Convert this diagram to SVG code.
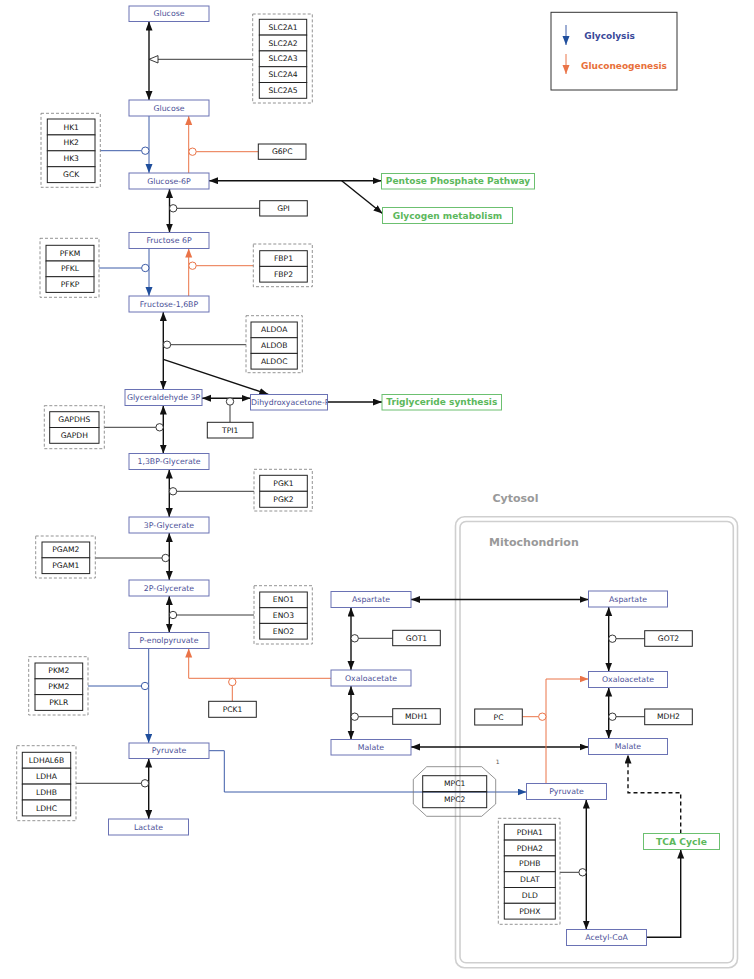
<svg xmlns="http://www.w3.org/2000/svg" width="754" height="979" viewBox="0 0 754 979">
<style>
.n rect{fill:#fff;stroke:#6a72b4;stroke-width:1}
.n text{font-family:"DejaVu Sans",Verdana,sans-serif;font-size:7.8px;fill:#4b5097;text-anchor:middle;dominant-baseline:central}
.g rect{fill:#fff;stroke:#222;stroke-width:1}
.g text{font-family:"DejaVu Sans",Verdana,sans-serif;font-size:7.6px;fill:#111;text-anchor:middle;dominant-baseline:central}
.g .grp{fill:none;stroke:#777;stroke-width:0.8;stroke-dasharray:3 2}
.p rect{fill:#fff;stroke:#6cc070;stroke-width:1}
.p text{font-family:"DejaVu Sans",Verdana,sans-serif;font-size:9px;font-weight:bold;fill:#5cb85c;text-anchor:middle;dominant-baseline:central}
.k{stroke:#111;stroke-width:1.4;fill:none}
.e{stroke:#222;stroke-width:0.9;fill:none}
.b{stroke:#3d5ca8;stroke-width:1;fill:none}
.o{stroke:#ea7448;stroke-width:1;fill:none}
.c{fill:#fff}
.lbl{font-family:"DejaVu Sans",Verdana,sans-serif;font-weight:bold;font-size:11px;fill:#999}
</style>
<defs>
<marker id="ak" markerUnits="userSpaceOnUse" markerWidth="10" markerHeight="8" refX="9" refY="3.5" orient="auto-start-reverse"><path d="M0,0 L9,3.5 L0,7 z" fill="#111"/></marker>
<marker id="ab" markerUnits="userSpaceOnUse" markerWidth="10" markerHeight="8" refX="9" refY="3.5" orient="auto-start-reverse"><path d="M0,0 L9,3.5 L0,7 z" fill="#1f4e9c"/></marker>
<marker id="ao" markerUnits="userSpaceOnUse" markerWidth="10" markerHeight="8" refX="9" refY="3.5" orient="auto-start-reverse"><path d="M0,0 L9,3.5 L0,7 z" fill="#ea7448"/></marker>
<clipPath id="clipD"><rect x="250.5" y="394.5" width="77" height="15.5"/></clipPath>
</defs>

<!-- compartments -->
<g id="compartments">
<rect x="455.5" y="516.7" width="282" height="451" rx="9" fill="none" stroke="#cfcfcf" stroke-width="1.6"/>
<rect x="460" y="521.5" width="273.3" height="441.3" rx="6" fill="none" stroke="#cfcfcf" stroke-width="1.6"/>
<text class="lbl" x="492.5" y="502">Cytosol</text>
<text class="lbl" x="489" y="546">Mitochondrion</text>
<text x="495.7" y="764" font-family="DejaVu Sans, sans-serif" font-size="6px" fill="#555">1</text>
</g>

<!-- legend -->
<g id="legend">
<rect x="551" y="12.3" width="126" height="77.7" fill="#fff" stroke="#333" stroke-width="1"/>
<line x1="566" y1="25" x2="566" y2="45" class="b" marker-end="url(#ab)"/>
<line x1="566" y1="54" x2="566" y2="74" class="o" marker-end="url(#ao)"/>
<text x="584.3" y="39" font-family="DejaVu Sans, sans-serif" font-weight="bold" font-size="9px" fill="#3a4a9a">Glycolysis</text>
<text x="581" y="69" font-family="DejaVu Sans, sans-serif" font-weight="bold" font-size="9px" fill="#e8703a">Gluconeogenesis</text>
</g>

<!-- connectors -->
<g id="connectors">
<line class="k" x1="149" y1="21.5" x2="149" y2="100" marker-start="url(#ak)" marker-end="url(#ak)"/>
<line class="e" x1="158" y1="59.3" x2="252.7" y2="59.3"/>
<path d="M149,59.3 L158,55.6 L158,63 z" fill="#fff" stroke="#222" stroke-width="0.9"/>

<line class="b" x1="149" y1="116" x2="149" y2="173" marker-end="url(#ab)"/>
<line class="b" x1="100.3" y1="150.7" x2="141.6" y2="150.7"/>
<circle class="c b" cx="145.3" cy="150.7" r="3.7"/>
<line class="o" x1="188.7" y1="173" x2="188.7" y2="116" marker-end="url(#ao)"/>
<line class="o" x1="196.2" y1="151.7" x2="258.3" y2="151.7"/>
<circle class="c o" cx="192.5" cy="151.7" r="3.7"/>

<line class="k" x1="209" y1="180.7" x2="381.5" y2="180.7" marker-start="url(#ak)" marker-end="url(#ak)" stroke-width="1.1"/>
<line class="k" x1="341.7" y1="180.7" x2="382.5" y2="213.5" marker-end="url(#ak)" stroke-width="1"/>

<line class="k" x1="169.5" y1="189" x2="169.5" y2="232.5" marker-start="url(#ak)" marker-end="url(#ak)"/>
<line class="e" x1="176.9" y1="208.3" x2="259.7" y2="208.3"/>
<circle class="c e" cx="173.2" cy="208.3" r="3.7"/>

<line class="b" x1="149" y1="248.5" x2="149" y2="296" marker-end="url(#ab)"/>
<line class="b" x1="99" y1="268" x2="141.6" y2="268"/>
<circle class="c b" cx="145.3" cy="268" r="3.7"/>
<line class="o" x1="188.7" y1="296" x2="188.7" y2="248.5" marker-end="url(#ao)"/>
<line class="o" x1="196.2" y1="265.7" x2="253.3" y2="265.7"/>
<circle class="c o" cx="192.5" cy="265.7" r="3.7"/>

<line class="k" x1="163.3" y1="312" x2="163.3" y2="389.5" marker-start="url(#ak)" marker-end="url(#ak)"/>
<line class="e" x1="170.7" y1="344.7" x2="246" y2="344.7"/>
<circle class="c e" cx="167" cy="344.7" r="3.7"/>
<line class="k" x1="163.3" y1="359.3" x2="268.3" y2="394.3" marker-end="url(#ak)" stroke-width="1"/>

<line class="k" x1="202" y1="398.3" x2="250.5" y2="398.3" marker-start="url(#ak)" marker-end="url(#ak)" stroke-width="1.1"/>
<line class="e" x1="230" y1="405.2" x2="230" y2="422.3"/>
<circle class="c e" cx="230" cy="401.5" r="3.7"/>
<line class="k" x1="327.5" y1="402" x2="382" y2="402" marker-end="url(#ak)" stroke-width="1.1"/>

<line class="k" x1="163.3" y1="405.5" x2="163.3" y2="453.5" marker-start="url(#ak)" marker-end="url(#ak)"/>
<line class="e" x1="104.3" y1="427.3" x2="155.9" y2="427.3"/>
<circle class="c e" cx="159.6" cy="427.3" r="3.7"/>

<line class="k" x1="169.3" y1="469.5" x2="169.3" y2="517" marker-start="url(#ak)" marker-end="url(#ak)"/>
<line class="e" x1="176.7" y1="491.3" x2="254" y2="491.3"/>
<circle class="c e" cx="173" cy="491.3" r="3.7"/>

<line class="k" x1="169.3" y1="533" x2="169.3" y2="580" marker-start="url(#ak)" marker-end="url(#ak)"/>
<line class="e" x1="95.3" y1="558" x2="161.9" y2="558"/>
<circle class="c e" cx="165.6" cy="558" r="3.7"/>

<line class="k" x1="169.3" y1="596" x2="169.3" y2="632.5" marker-start="url(#ak)" marker-end="url(#ak)"/>
<line class="e" x1="176.7" y1="615" x2="254" y2="615"/>
<circle class="c e" cx="173" cy="615" r="3.7"/>

<line class="b" x1="148.7" y1="648.5" x2="148.7" y2="743" marker-end="url(#ab)"/>
<line class="b" x1="88" y1="686" x2="141.3" y2="686"/>
<circle class="c b" cx="145" cy="686" r="3.7"/>

<polyline class="o" points="331,678.3 188.7,678.3 188.7,648.5" marker-end="url(#ao)"/>
<line class="o" x1="232.3" y1="685.7" x2="232.3" y2="701.3"/>
<circle class="c o" cx="232.3" cy="682" r="3.7"/>

<polyline class="b" points="208.7,750.7 224.3,750.7 224.3,792 526.5,792" marker-end="url(#ab)"/>

<line class="k" x1="148.7" y1="758.5" x2="148.7" y2="819" marker-start="url(#ak)" marker-end="url(#ak)"/>
<line class="e" x1="76" y1="783.3" x2="141.3" y2="783.3"/>
<circle class="c e" cx="145" cy="783.3" r="3.7"/>

<line class="k" x1="351" y1="607.5" x2="351" y2="670" marker-start="url(#ak)" marker-end="url(#ak)" stroke-width="1.1"/>
<line class="e" x1="358.4" y1="638.3" x2="392.7" y2="638.3"/>
<circle class="c e" cx="354.7" cy="638.3" r="3.7"/>
<line class="k" x1="351" y1="686" x2="351" y2="739.5" marker-start="url(#ak)" marker-end="url(#ak)" stroke-width="1.1"/>
<line class="e" x1="358.4" y1="716.7" x2="392.7" y2="716.7"/>
<circle class="c e" cx="354.7" cy="716.7" r="3.7"/>

<line class="k" x1="411" y1="599.5" x2="588.5" y2="599.5" marker-start="url(#ak)" marker-end="url(#ak)" stroke-width="1.1"/>
<line class="k" x1="411" y1="747" x2="588.5" y2="747" marker-start="url(#ak)" marker-end="url(#ak)" stroke-width="1.1"/>

<line class="k" x1="608.7" y1="607" x2="608.7" y2="671.5" marker-start="url(#ak)" marker-end="url(#ak)" stroke-width="1.1"/>
<line class="e" x1="616.1" y1="638.7" x2="644.7" y2="638.7"/>
<circle class="c e" cx="612.4" cy="638.7" r="3.7"/>
<line class="k" x1="608.7" y1="687.5" x2="608.7" y2="738.5" marker-start="url(#ak)" marker-end="url(#ak)" stroke-width="1.1"/>
<line class="e" x1="616.1" y1="716.7" x2="644.7" y2="716.7"/>
<circle class="c e" cx="612.4" cy="716.7" r="3.7"/>

<polyline class="o" points="546,783.5 546,679 588.5,679" marker-end="url(#ao)"/>
<line class="o" x1="522.3" y1="716.7" x2="538.6" y2="716.7"/>
<circle class="c o" cx="542.3" cy="716.7" r="3.7"/>

<line class="k" x1="586.3" y1="799.5" x2="586.3" y2="929.5" marker-start="url(#ak)" marker-end="url(#ak)" stroke-width="1.1"/>
<line class="e" x1="560" y1="872.3" x2="578.9" y2="872.3"/>
<circle class="c e" cx="582.6" cy="872.3" r="3.7"/>

<polyline class="k" points="646.5,937.3 680.7,937.3 680.7,849.5" marker-end="url(#ak)" stroke-width="1.1"/>
<polyline class="k" points="680.7,833.5 680.7,792.7 628,792.7 628,754.5" marker-end="url(#ak)" stroke-width="1.1" stroke-dasharray="4 3"/>
</g>

<!-- metabolite nodes -->
<g id="glucose_out" class="n"><rect x="129" y="6" width="80" height="15.5"/><text x="169" y="13.8">Glucose</text></g>
<g id="glucose_in" class="n"><rect x="129" y="100" width="80" height="16"/><text x="169" y="108">Glucose</text></g>
<g id="glucose6p" class="n"><rect x="129" y="173" width="80" height="16"/><text x="169" y="181">Glucose-6P</text></g>
<g id="fructose6p" class="n"><rect x="129" y="232.5" width="80" height="16"/><text x="169" y="240.5">Fructose 6P</text></g>
<g id="fructose16bp" class="n"><rect x="129" y="296" width="80" height="16"/><text x="169" y="304">Fructose-1,6BP</text></g>
<g id="glyceraldehyde3p" class="n"><rect x="125" y="389.5" width="77" height="16"/><text x="163.5" y="397.5">Glyceraldehyde 3P</text></g>
<g id="dhap" class="n"><rect x="250.5" y="394.5" width="77" height="15.5"/><text x="251" y="402.3" style="text-anchor:start" clip-path="url(#clipD)">Dihydroxyacetone-P</text></g>
<g id="bpg13" class="n"><rect x="129" y="453.5" width="80" height="16"/><text x="169" y="461.5">1,3BP-Glycerate</text></g>
<g id="pg3" class="n"><rect x="129" y="517" width="80" height="16"/><text x="169" y="525">3P-Glycerate</text></g>
<g id="pg2" class="n"><rect x="129" y="580" width="80" height="16"/><text x="169" y="588">2P-Glycerate</text></g>
<g id="pep" class="n"><rect x="129" y="632.5" width="80" height="16"/><text x="169" y="640.5">P-enolpyruvate</text></g>
<g id="pyruvate_c" class="n"><rect x="129" y="743" width="80" height="15.5"/><text x="169" y="750.8">Pyruvate</text></g>
<g id="lactate" class="n"><rect x="108.5" y="819" width="80" height="16"/><text x="148.5" y="827">Lactate</text></g>
<g id="aspartate_c" class="n"><rect x="331" y="591.5" width="80" height="16"/><text x="371" y="599.5">Aspartate</text></g>
<g id="oxaloacetate_c" class="n"><rect x="331" y="670" width="80" height="16"/><text x="371" y="678">Oxaloacetate</text></g>
<g id="malate_c" class="n"><rect x="331" y="739.5" width="80" height="15.5"/><text x="371" y="747.3">Malate</text></g>
<g id="aspartate_m" class="n"><rect x="588.5" y="591" width="79" height="16"/><text x="628" y="599">Aspartate</text></g>
<g id="oxaloacetate_m" class="n"><rect x="588.5" y="671.5" width="79" height="16"/><text x="628" y="679.5">Oxaloacetate</text></g>
<g id="malate_m" class="n"><rect x="588.5" y="738.5" width="79" height="16"/><text x="628" y="746.5">Malate</text></g>
<g id="pyruvate_m" class="n"><rect x="526.5" y="783.5" width="80" height="16"/><text x="566.5" y="791.5">Pyruvate</text></g>
<g id="acetylcoa" class="n"><rect x="566.5" y="929.5" width="80" height="16"/><text x="606.5" y="937.5">Acetyl-CoA</text></g>

<!-- pathway nodes -->
<g id="ppp" class="p"><rect x="381.5" y="173.5" width="153" height="15.5"/><text x="458" y="181.3">Pentose Phosphate Pathway</text></g>
<g id="glycogen" class="p"><rect x="382.5" y="207.5" width="130" height="16"/><text x="447.5" y="215.5">Glycogen metabolism</text></g>
<g id="triglyceride" class="p"><rect x="382" y="394.5" width="119.5" height="15.5"/><text x="441.8" y="402.3">Triglyceride synthesis</text></g>
<g id="tca" class="p"><rect x="643.5" y="833.5" width="76" height="16"/><text x="681.5" y="841.5" style="font-size:9.2px">TCA Cycle</text></g>

<!-- gene nodes -->
<g id="slc2a" class="g">
<rect class="grp" x="252.7" y="14" width="59.6" height="89"/>
<rect x="259.3" y="19.3" width="47.4" height="15.8"/><text x="283" y="27.2">SLC2A1</text>
<rect x="259.3" y="35.1" width="47.4" height="15.8"/><text x="283" y="43">SLC2A2</text>
<rect x="259.3" y="50.9" width="47.4" height="15.8"/><text x="283" y="58.8">SLC2A3</text>
<rect x="259.3" y="66.7" width="47.4" height="15.8"/><text x="283" y="74.6">SLC2A4</text>
<rect x="259.3" y="82.5" width="47.4" height="15.8"/><text x="283" y="90.4">SLC2A5</text>
</g>
<g id="hk" class="g">
<rect class="grp" x="41" y="113.3" width="59.3" height="74"/>
<rect x="47.3" y="119" width="47.7" height="15.9"/><text x="71.2" y="127">HK1</text>
<rect x="47.3" y="134.9" width="47.7" height="15.9"/><text x="71.2" y="142.9">HK2</text>
<rect x="47.3" y="150.8" width="47.7" height="15.9"/><text x="71.2" y="158.8">HK3</text>
<rect x="47.3" y="166.7" width="47.7" height="15.9"/><text x="71.2" y="174.7">GCK</text>
</g>
<g id="g6pc" class="g"><rect x="258.3" y="144" width="47.7" height="15.3"/><text x="282.2" y="151.7">G6PC</text></g>
<g id="gpi" class="g"><rect x="259.7" y="200.7" width="47.6" height="15.3"/><text x="283.5" y="208.4">GPI</text></g>
<g id="pfk" class="g">
<rect class="grp" x="40" y="238.3" width="59" height="59"/>
<rect x="46" y="245.3" width="48" height="15.7"/><text x="70" y="253.2">PFKM</text>
<rect x="46" y="261" width="48" height="15.7"/><text x="70" y="268.9">PFKL</text>
<rect x="46" y="276.7" width="48" height="15.7"/><text x="70" y="284.6">PFKP</text>
</g>
<g id="fbp" class="g">
<rect class="grp" x="253.3" y="244" width="59" height="42.7"/>
<rect x="259.7" y="250.7" width="47.6" height="15.7"/><text x="283.5" y="258.6">FBP1</text>
<rect x="259.7" y="266.4" width="47.6" height="15.7"/><text x="283.5" y="274.3">FBP2</text>
</g>
<g id="aldo" class="g">
<rect class="grp" x="246" y="315.7" width="56.3" height="57"/>
<rect x="251" y="322" width="46.3" height="15.7"/><text x="274.2" y="329.9">ALDOA</text>
<rect x="251" y="337.7" width="46.3" height="15.7"/><text x="274.2" y="345.6">ALDOB</text>
<rect x="251" y="353.4" width="46.3" height="15.7"/><text x="274.2" y="361.3">ALDOC</text>
</g>
<g id="gapdh" class="g">
<rect class="grp" x="44.3" y="405.7" width="60" height="43"/>
<rect x="49.7" y="411.7" width="49.3" height="15.8"/><text x="74.3" y="419.6">GAPDHS</text>
<rect x="49.7" y="427.5" width="49.3" height="15.8"/><text x="74.3" y="435.4">GAPDH</text>
</g>
<g id="tpi1" class="g"><rect x="207.3" y="422.3" width="45.7" height="15.7"/><text x="230.2" y="430.2">TPI1</text></g>
<g id="pgk" class="g">
<rect class="grp" x="254" y="469.3" width="58.3" height="41.7"/>
<rect x="259.7" y="475.3" width="47.6" height="16"/><text x="283.5" y="483.3">PGK1</text>
<rect x="259.7" y="491.3" width="47.6" height="16"/><text x="283.5" y="499.3">PGK2</text>
</g>
<g id="pgam" class="g">
<rect class="grp" x="35.7" y="536" width="59.6" height="42"/>
<rect x="42" y="542" width="47.7" height="15.8"/><text x="65.8" y="549.9">PGAM2</text>
<rect x="42" y="557.8" width="47.7" height="15.8"/><text x="65.8" y="565.7">PGAM1</text>
</g>
<g id="eno" class="g">
<rect class="grp" x="254" y="585.7" width="58.3" height="58.3"/>
<rect x="259.7" y="592" width="47.6" height="15.7"/><text x="283.5" y="599.9">ENO1</text>
<rect x="259.7" y="607.7" width="47.6" height="15.7"/><text x="283.5" y="615.6">ENO3</text>
<rect x="259.7" y="623.4" width="47.6" height="15.7"/><text x="283.5" y="631.3">ENO2</text>
</g>
<g id="pk" class="g">
<rect class="grp" x="28.7" y="656.7" width="59.3" height="58.3"/>
<rect x="35" y="663" width="47.7" height="15.8"/><text x="58.8" y="670.9">PKM2</text>
<rect x="35" y="678.8" width="47.7" height="15.8"/><text x="58.8" y="686.7">PKM2</text>
<rect x="35" y="694.6" width="47.7" height="15.8"/><text x="58.8" y="702.5">PKLR</text>
</g>
<g id="pck1" class="g"><rect x="208.7" y="701.3" width="47.6" height="16"/><text x="232.5" y="709.3">PCK1</text></g>
<g id="ldh" class="g">
<rect class="grp" x="16.7" y="745.7" width="59.3" height="75"/>
<rect x="22.3" y="752.3" width="48.4" height="15.9"/><text x="46.5" y="760.3">LDHAL6B</text>
<rect x="22.3" y="768.2" width="48.4" height="15.9"/><text x="46.5" y="776.2">LDHA</text>
<rect x="22.3" y="784.1" width="48.4" height="15.9"/><text x="46.5" y="792.1">LDHB</text>
<rect x="22.3" y="800" width="48.4" height="15.9"/><text x="46.5" y="808">LDHC</text>
</g>
<g id="got1" class="g"><rect x="392.7" y="630.3" width="47.6" height="15.4"/><text x="416.5" y="638">GOT1</text></g>
<g id="mdh1" class="g"><rect x="392.7" y="708.7" width="47.6" height="15.6"/><text x="416.5" y="716.5">MDH1</text></g>
<g id="got2" class="g"><rect x="644.7" y="630.7" width="47.6" height="15.6"/><text x="668.5" y="638.5">GOT2</text></g>
<g id="mdh2" class="g"><rect x="644.7" y="709" width="47.6" height="15.7"/><text x="668.5" y="716.9">MDH2</text></g>
<g id="pc" class="g"><rect x="474.7" y="709" width="47.6" height="16"/><text x="498.5" y="717">PC</text></g>
<g id="mpc" class="g">
<polygon points="426.7,766.7 481.7,766.7 495.7,779.3 495.7,804 481.7,816.3 426.7,816.3 413.3,804 413.3,779.3" fill="none" stroke="#777" stroke-width="0.8"/>
<rect x="422.7" y="775.7" width="64" height="16" style="fill:none"/><text x="454.7" y="783.7">MPC1</text>
<rect x="422.7" y="791.7" width="64" height="16" style="fill:none"/><text x="454.7" y="799.7">MPC2</text>
</g>
<g id="pdh" class="g">
<rect class="grp" x="498.3" y="818.3" width="61.7" height="106"/>
<rect x="504.3" y="824.3" width="51" height="15.8"/><text x="529.8" y="832.2">PDHA1</text>
<rect x="504.3" y="840.1" width="51" height="15.8"/><text x="529.8" y="848">PDHA2</text>
<rect x="504.3" y="855.9" width="51" height="15.8"/><text x="529.8" y="863.8">PDHB</text>
<rect x="504.3" y="871.7" width="51" height="15.8"/><text x="529.8" y="879.6">DLAT</text>
<rect x="504.3" y="887.5" width="51" height="15.8"/><text x="529.8" y="895.4">DLD</text>
<rect x="504.3" y="903.3" width="51" height="15.8"/><text x="529.8" y="911.2">PDHX</text>
</g>
</svg>
